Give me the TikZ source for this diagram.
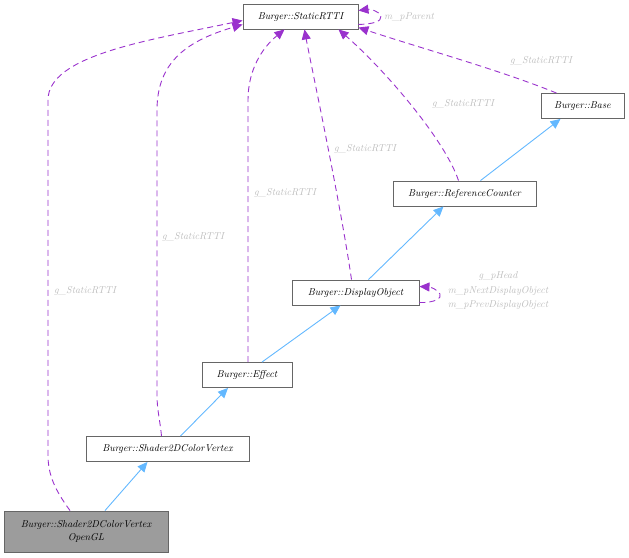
\documentclass[tikz,border=0pt]{standalone}
\usepackage{tikz}
\usetikzlibrary{arrows.meta}

\definecolor{relpurple}{HTML}{9A32CD}
\definecolor{inhblue}{HTML}{63B8FF}
\definecolor{lblgray}{HTML}{BEBEBE}
\definecolor{boxgray}{HTML}{666666}

\begin{document}
\begin{tikzpicture}[
  x=1pt, y=-1pt,
  every node/.style={font=\fontsize{10}{13}\selectfont\itshape},
  cls/.style={draw=boxgray, fill=white, align=center, inner sep=1pt, minimum height=25pt, line width=0.9pt},
  focus/.style={cls, fill=boxgray!65},
  inh/.style={draw=inhblue, line width=0.9pt, -{Triangle[length=10pt,width=9pt]}},
  use/.style={draw=relpurple, line width=0.9pt, dash pattern=on 6pt off 4pt, -{Triangle[length=10pt,width=9pt]}},
  lbl/.style={text=lblgray, align=center, inner sep=0.5pt}
]
\useasboundingbox (0,0) rectangle (629,557);
% classes
\node[cls, minimum width=115pt] (rtti)   at (300.5,16.5) {Burger::StaticRTTI};
\node[cls, minimum width=83pt]  (base)   at (582.5,106)  {Burger::Base};
\node[cls, minimum width=143pt] (refc)   at (464.5,193.5){Burger::ReferenceCounter};
\node[cls, minimum width=127pt] (dobj)   at (355.5,292.5){Burger::DisplayObject};
\node[cls, minimum width=90pt]  (effect) at (247,375)    {Burger::Effect};
\node[cls, minimum width=163pt] (shader) at (167.5,449)  {Burger::Shader2DColorVertex};
\node[focus, minimum width=164pt, minimum height=41pt] (gl) at (86,531.5)
  {Burger::Shader2DColorVertex\\OpenGL};
% inheritance
\draw[inh] ([xshift=16pt]refc.north)   -- ([xshift=-22pt]base.south);
\draw[inh] ([xshift=13pt]dobj.north)   -- ([xshift=-21pt]refc.south);
\draw[inh] ([xshift=15pt]effect.north) -- ([xshift=-15pt]dobj.south);
\draw[inh] ([xshift=13pt]shader.north) -- ([xshift=-19pt]effect.south);
\draw[inh] ([xshift=19pt]gl.north)     -- ([xshift=-20pt]shader.south);
% usage
\draw[use] ([xshift=-16pt]gl.north) .. controls (55,490) and (48,475) .. (48,455)
  -- (48,100) .. controls (48,55) and (150,40) .. ([yshift=-4pt]rtti.west);
\draw[use] ([xshift=-6pt]shader.north) .. controls (160,420) and (157,410) .. (157,395)
  -- (157,110) .. controls (157,60) and (190,40) .. ([yshift=-8pt]rtti.west);
\draw[use] ([xshift=1pt]effect.north) -- (248,100)
  .. controls (248,70) and (262,48) .. ([xshift=-16pt]rtti.south);
\draw[use] ([xshift=-4pt]dobj.north) .. controls (340,200) and (310,60) .. ([xshift=4pt]rtti.south);
\draw[use] ([xshift=-6pt]refc.north) .. controls (445,140) and (385,70) .. ([xshift=38pt]rtti.south);
\draw[use] ([xshift=-26pt]base.north) .. controls (500,70) and (420,48) .. ([yshift=-11pt]rtti.east);
\draw[use] ([yshift=-8pt]rtti.east) .. controls (372,24) and (382,22) .. (381,16)
  .. controls (379,11) and (370,9) .. ([yshift=6pt]rtti.east);
\draw[use] ([yshift=-10pt]dobj.east) .. controls (435,303) and (442,298) .. (440,294)
  .. controls (437,289) and (430,287) .. ([yshift=6pt]dobj.east);
% labels
\node[lbl] (lparent) at (409,17)  {m\_pParent};
\node[lbl] (lbase)   at (541,61)  {g\_StaticRTTI};
\node[lbl] (lrefc)   at (463,104) {g\_StaticRTTI};
\node[lbl] (ldobj)   at (365,149) {g\_StaticRTTI};
\node[lbl] (leffect) at (285,193) {g\_StaticRTTI};
\node[lbl] (lshader) at (193,237) {g\_StaticRTTI};
\node[lbl] (lgl)     at (85,291)  {g\_StaticRTTI};
\node[lbl, font=\fontsize{10}{14.5}\selectfont\itshape] (llist) at (498,291)
  {g\_pHead\\m\_pNextDisplayObject\\m\_pPrevDisplayObject};
\end{tikzpicture}
\end{document}
